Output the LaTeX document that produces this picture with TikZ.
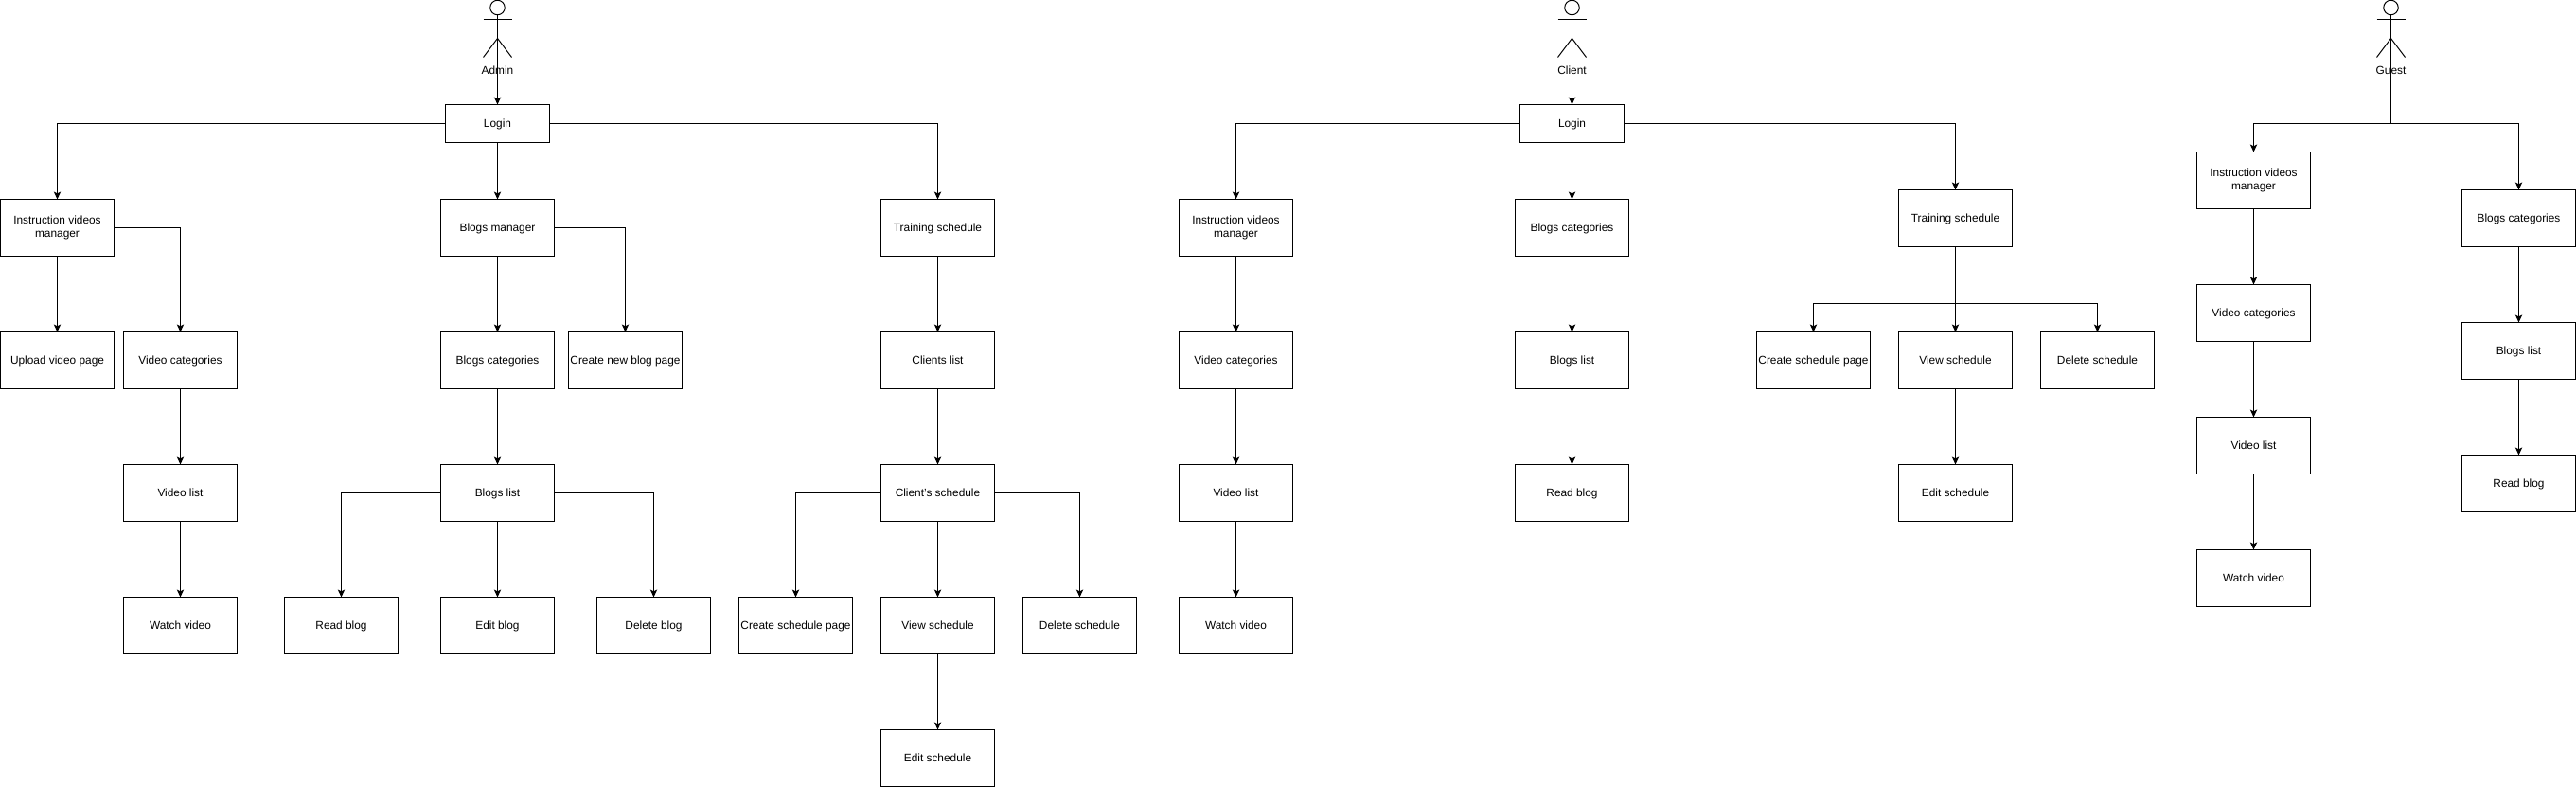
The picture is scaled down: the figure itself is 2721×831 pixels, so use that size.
\documentclass[tikz,border=0pt]{standalone}
\usepackage{fontspec}
\setmainfont{Liberation Sans}
\usetikzlibrary{arrows.meta}
\newcommand{\linestrut}{\rule[-1.9pt]{0pt}{10.5pt}}

\begin{document}
\begin{tikzpicture}[
  x=0.75pt,
  y=-0.75pt,
  line width=0.75pt,
  box/.style={
    draw,
    minimum width=90pt,
    minimum height=45pt,
    inner sep=0pt,
    outer sep=0pt,
    align=center,
    font=\fontsize{8.9}{10.5}\selectfont,
    execute at begin node=\linestrut
  },
  loginbox/.style={
    box,
    minimum width=82.5pt,
    minimum height=30pt
  },
  actorlabel/.style={
    inner sep=0pt,
    font=\fontsize{8.9}{10.5}\selectfont,
    execute at begin node=\linestrut
  },
  link/.style={
    -{Stealth[length=6pt,width=5.5pt,inset=1.4pt]}
  }
]
  \useasboundingbox (0,0) rectangle (2721,831);

  \foreach \actorname/\actorx/\actortext in {admin/525.5/Admin,client/1660.5/Client,guest/2525.5/Guest} {
    \node[draw,circle,minimum size=11.6pt,inner sep=0pt,outer sep=0pt] (\actorname head) at (\actorx,8) {};
    \coordinate (\actorname spine) at (\actorx,30.5);
    \draw (\actorname head.south) -- (\actorx,40.5);
    \draw (\actorx-15,20.5) -- (\actorx+15,20.5);
    \draw (\actorx-15,60.5) -- (\actorx,40.5) -- (\actorx+15,60.5);
    \node[actorlabel] (\actorname) at (\actorx,74) {\actortext};
  }

  \node[loginbox] (adminlogin) at (525.5,130.5) {Login};
  \node[box] (adminvideos) at (60.5,240.5) {Instruction videos\\\linestrut manager};
  \node[box] (adminupload) at (60.5,380.5) {Upload video page};
  \node[box] (admincategories) at (190.5,380.5) {Video categories};
  \node[box] (adminvideolist) at (190.5,520.5) {Video list};
  \node[box] (adminwatch) at (190.5,660.5) {Watch video};

  \node[box] (adminblogs) at (525.5,240.5) {Blogs manager};
  \node[box] (adminblogcategories) at (525.5,380.5) {Blogs categories};
  \node[box] (adminnewblog) at (660.5,380.5) {Create new blog page};
  \node[box] (adminbloglist) at (525.5,520.5) {Blogs list};
  \node[box] (adminread) at (360.5,660.5) {Read blog};
  \node[box] (adminedit) at (525.5,660.5) {Edit blog};
  \node[box] (admindelete) at (690.5,660.5) {Delete blog};

  \node[box] (admintraining) at (990.5,240.5) {Training schedule};
  \node[box] (adminclients) at (990.5,380.5) {Clients list};
  \node[box] (adminschedule) at (990.5,520.5) {Client's schedule};
  \node[box] (admincreate) at (840.5,660.5) {Create schedule page};
  \node[box] (adminview) at (990.5,660.5) {View schedule};
  \node[box] (adminremove) at (1140.5,660.5) {Delete schedule};
  \node[box] (adminchange) at (990.5,800.5) {Edit schedule};

  \node[loginbox] (clientlogin) at (1660.5,130.5) {Login};
  \node[box] (clientvideos) at (1305.5,240.5) {Instruction videos\\\linestrut manager};
  \node[box] (clientcategories) at (1305.5,380.5) {Video categories};
  \node[box] (clientvideolist) at (1305.5,520.5) {Video list};
  \node[box] (clientwatch) at (1305.5,660.5) {Watch video};

  \node[box] (clientblogcategories) at (1660.5,240.5) {Blogs categories};
  \node[box] (clientbloglist) at (1660.5,380.5) {Blogs list};
  \node[box] (clientread) at (1660.5,520.5) {Read blog};

  \node[box] (clienttraining) at (2065.5,230.5) {Training schedule};
  \coordinate (clientfork) at (2065.5,320.5);
  \node[box] (clientcreate) at (1915.5,380.5) {Create schedule page};
  \node[box] (clientview) at (2065.5,380.5) {View schedule};
  \node[box] (clientremove) at (2215.5,380.5) {Delete schedule};
  \node[box] (clientchange) at (2065.5,520.5) {Edit schedule};

  \coordinate (guestfork) at (2525.5,130.5);
  \node[box] (guestvideos) at (2380.5,190.5) {Instruction videos\\\linestrut manager};
  \node[box] (guestcategories) at (2380.5,330.5) {Video categories};
  \node[box] (guestvideolist) at (2380.5,470.5) {Video list};
  \node[box] (guestwatch) at (2380.5,610.5) {Watch video};

  \node[box] (guestblogcategories) at (2660.5,230.5) {Blogs categories};
  \node[box] (guestbloglist) at (2660.5,370.5) {Blogs list};
  \node[box] (guestread) at (2660.5,510.5) {Read blog};

  \draw[link] (adminspine) -- (adminlogin);
  \draw[link] (adminlogin.west) -| (adminvideos.north);
  \draw[link] (adminlogin) -- (adminblogs);
  \draw[link] (adminlogin.east) -| (admintraining.north);
  \draw[link] (adminvideos) -- (adminupload);
  \draw[link] (adminvideos.east) -| (admincategories.north);
  \draw[link] (admincategories) -- (adminvideolist);
  \draw[link] (adminvideolist) -- (adminwatch);
  \draw[link] (adminblogs) -- (adminblogcategories);
  \draw[link] (adminblogs.east) -| (adminnewblog.north);
  \draw[link] (adminblogcategories) -- (adminbloglist);
  \draw[link] (adminbloglist.west) -| (adminread.north);
  \draw[link] (adminbloglist) -- (adminedit);
  \draw[link] (adminbloglist.east) -| (admindelete.north);
  \draw[link] (admintraining) -- (adminclients);
  \draw[link] (adminclients) -- (adminschedule);
  \draw[link] (adminschedule.west) -| (admincreate.north);
  \draw[link] (adminschedule) -- (adminview);
  \draw[link] (adminschedule.east) -| (adminremove.north);
  \draw[link] (adminview) -- (adminchange);

  \draw[link] (clientspine) -- (clientlogin);
  \draw[link] (clientlogin.west) -| (clientvideos.north);
  \draw[link] (clientlogin) -- (clientblogcategories);
  \draw[link] (clientlogin.east) -| (clienttraining.north);
  \draw[link] (clientvideos) -- (clientcategories);
  \draw[link] (clientcategories) -- (clientvideolist);
  \draw[link] (clientvideolist) -- (clientwatch);
  \draw[link] (clientblogcategories) -- (clientbloglist);
  \draw[link] (clientbloglist) -- (clientread);
  \draw[link] (clienttraining) -- (clientview);
  \draw[link] (clienttraining.south) -- (clientfork) -| (clientcreate.north);
  \draw[link] (clienttraining.south) -- (clientfork) -| (clientremove.north);
  \draw[link] (clientview) -- (clientchange);

  \draw[link] (guestspine) -- (guestfork) -| (guestvideos.north);
  \draw[link] (guestspine) -- (guestfork) -| (guestblogcategories.north);
  \draw[link] (guestvideos) -- (guestcategories);
  \draw[link] (guestcategories) -- (guestvideolist);
  \draw[link] (guestvideolist) -- (guestwatch);
  \draw[link] (guestblogcategories) -- (guestbloglist);
  \draw[link] (guestbloglist) -- (guestread);
\end{tikzpicture}
\end{document}
